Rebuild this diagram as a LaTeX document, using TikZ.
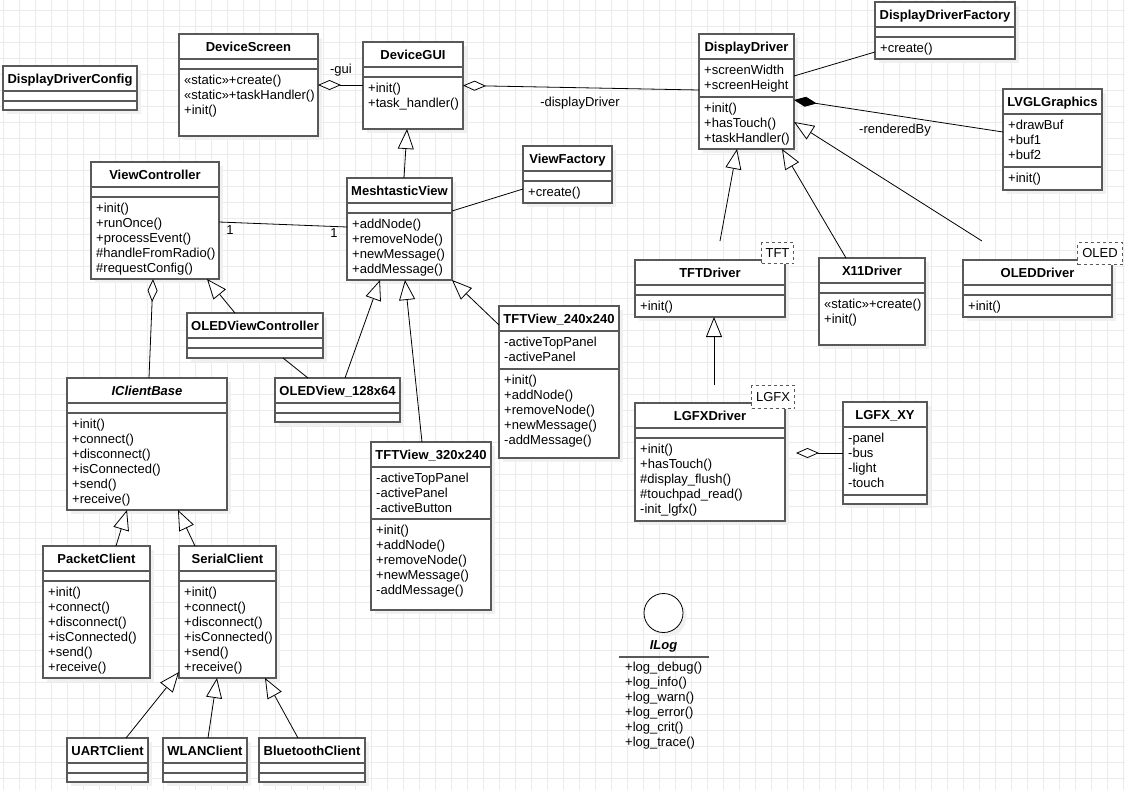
\documentclass[tikz,border=0pt]{standalone}
\usepackage{fontspec}
\setmainfont{Liberation Sans}
\usetikzlibrary{arrows.meta, positioning, calc}

\newcommand{\umlfont}{\fontsize{13}{15}\selectfont}
% id, left, top, width, height, attribute part height, title, attributes, methods
\newcommand{\umlclass}[9]{%
  \fill[classshadow] ({#2+4},{#3+4}) rectangle ++(#4,#5);
  \node[classbox, anchor=north west, minimum width=#4pt, minimum height=#5pt] (#1) at (#2,#3) {};
  \draw[classline] ($(#1.north west)+(0,25)$) -- ($(#1.north east)+(0,25)$);
  \draw[classline] ($(#1.north west)+(0,25+#6)$) -- ($(#1.north east)+(0,25+#6)$);
  \node[classtitle] (#1-title) at ($(#1.north)+(0,17.5)$) {#7};
  \node[members] (#1-attr) at ($(#1.north west)+(5,30)$) {\strut #8};
  \node[members] (#1-meth) at ($(#1.north west)+(5,30+#6)$) {\strut #9};
}

\begin{document}
\begin{tikzpicture}[x=1pt, y=-1pt,
    gridline/.style={draw=black!8, line width=0.8pt},
    classshadow/.style={fill=black!6},
    classbox/.style={draw=black!65, line width=1.3pt, fill=white, inner sep=0pt, outer sep=0pt},
    classline/.style={draw=black!65, line width=1.3pt},
    classtitle/.style={font=\bfseries\umlfont, anchor=base, inner sep=0pt},
    members/.style={font=\umlfont, anchor=north west, align=left, inner sep=0pt},
    lbl/.style={font=\umlfont, anchor=base, inner sep=0pt},
    tag/.style={draw=black!65, dashed, line width=1pt, fill=white, font=\umlfont, inner sep=0pt, anchor=north west},
    assoc/.style={line width=0.8pt},
    inherit/.style={line width=0.8pt, -{Triangle[fill=white, length=20pt, width=16pt]}},
    aggr/.style={line width=0.8pt, {Diamond[fill=white, length=23pt, width=10pt]}-},
    compo/.style={line width=0.8pt, {Diamond[length=23pt, width=10pt]}-}]

  \useasboundingbox (0,0) rectangle (1125,790);
  \fill[white] (0,0) rectangle (1125,790);
  \foreach \gx in {3.5,19.5,...,1125} \draw[gridline] (\gx,0) -- (\gx,790);
  \foreach \gy in {10,26,...,790} \draw[gridline] (0,\gy) -- (1125,\gy);

  \umlclass{ddconfig}{3}{66}{134}{44}{10}{DisplayDriverConfig}{}{}
  \umlclass{devscreen}{179}{34}{139}{102}{10}{DeviceScreen}{}{«static»+create()\\«static»+taskHandler()\\+init()}
  \umlclass{devgui}{363}{42}{100}{87}{10}{DeviceGUI}{}{+init()\\+task\_handler()}
  \umlclass{dispdriver}{699}{34}{95}{115}{38}{DisplayDriver}{+screenWidth\\+screenHeight}{+init()\\+hasTouch()\\+taskHandler()}
  \umlclass{ddfactory}{875}{2}{140}{57}{10}{DisplayDriverFactory}{}{+create()}
  \umlclass{lvgl}{1003}{89}{99}{101}{53}{LVGLGraphics}{+drawBuf\\+buf1\\+buf2}{+init()}
  \umlclass{viewfactory}{523}{146}{89}{57}{10}{ViewFactory}{}{+create()}
  \umlclass{meshview}{347}{178}{105}{102}{10}{MeshtasticView}{}{+addNode()\\+removeNode()\\+newMessage()\\+addMessage()}
  \umlclass{viewctrl}{91}{162}{128}{117}{10}{ViewController}{}{+init()\\+runOnce()\\+processEvent()\\\#handleFromRadio()\\\#requestConfig()}
  \umlclass{oledvc}{187}{313}{136}{45}{10}{OLEDViewController}{}{}
  \umlclass{clientbase}{67}{378}{160}{132}{10}{\textit{IClientBase}}{}{+init()\\+connect()\\+disconnect()\\+isConnected()\\+send()\\+receive()}
  \umlclass{oledview}{275}{378}{125}{44}{10}{OLEDView\_128x64}{}{}
  \umlclass{tftview320}{371}{442}{120}{168}{52}{TFTView\_320x240}{-activeTopPanel\\-activePanel\\-activeButton}{+init()\\+addNode()\\+removeNode()\\+newMessage()\\-addMessage()}
  \umlclass{tftview240}{499}{306}{120}{152}{38}{TFTView\_240x240}{-activeTopPanel\\-activePanel}{+init()\\+addNode()\\+removeNode()\\+newMessage()\\-addMessage()}
  \umlclass{tftdriver}{635}{260}{150}{57}{10}{TFTDriver}{}{+init()}
  \umlclass{x11driver}{819}{258}{106}{87}{10}{X11Driver}{}{«static»+create()\\+init()}
  \umlclass{oleddriver}{963}{260}{149}{57}{10}{OLEDDriver}{}{+init()}
  \umlclass{lgfxdriver}{635}{403}{150}{118}{10}{LGFXDriver}{}{+init()\\+hasTouch()\\\#display\_flush()\\\#touchpad\_read()\\-init\_lgfx()}
  \umlclass{lgfxxy}{843}{402}{84}{102}{68}{LGFX\_XY}{-panel\\-bus\\-light\\-touch}{}
  \umlclass{packet}{43}{546}{107}{132}{10}{PacketClient}{}{+init()\\+connect()\\+disconnect()\\+isConnected()\\+send()\\+receive()}
  \umlclass{serial}{179}{546}{97}{132}{10}{SerialClient}{}{+init()\\+connect()\\+disconnect()\\+isConnected()\\+send()\\+receive()}
  \umlclass{uart}{67}{738}{81}{44}{10}{UARTClient}{}{}
  \umlclass{wlan}{163}{738}{84}{44}{10}{WLANClient}{}{}
  \umlclass{bluetooth}{259}{738}{106}{44}{10}{BluetoothClient}{}{}

  \node[tag, minimum width=32pt, minimum height=21pt] (tfttag) at (761,242) {TFT};
  \node[tag, minimum width=43pt, minimum height=23pt] (lgfxtag) at (751,385) {LGFX};
  \node[tag, minimum width=45pt, minimum height=22pt] (oledtag) at (1077,242) {OLED};

  % interface
  \fill[classshadow] (667,617) circle (19.5);
  \node[draw, circle, fill=white, line width=0.8pt, minimum size=39pt, inner sep=0pt] (ilog) at (663.5,613) {};
  \node[classtitle, font=\bfseries\itshape\umlfont] (ilog-title) at (663.5,649.5) {ILog};
  \draw[classline] (619,657) -- (709,657);
  \node[members] (ilog-meth) at (625,661) {\strut +log\_debug()\\+log\_info()\\+log\_warn()\\+log\_error()\\+log\_crit()\\+log\_trace()};

  % associations
  \draw[aggr] (devscreen.east) -- (devscreen.east -| devgui.west);
  \node[lbl] (gui-lbl) at (341,73.5) {-gui};
  \draw[aggr] (devgui.east) -- ($(dispdriver.north west)+(0,56)$);
  \node[lbl] (driver-lbl) at (580,106.5) {-displayDriver};
  \draw[assoc] ($(dispdriver.north east)+(0,42)$) -- ($(ddfactory.north west)+(0,50)$);
  \draw[compo] ($(dispdriver.north east)+(0,66)$) -- ($(lvgl.north west)+(0,43)$);
  \node[lbl] (render-lbl) at (895,133.5) {-renderedBy};
  \draw[assoc] ($(meshview.north east)+(0,33)$) -- ($(viewfactory.north west)+(0,43)$);
  \draw[assoc] ($(viewctrl.north east)+(0,60)$) -- ($(meshview.north west)+(0,49)$);
  \node[lbl] (one-a) at (230,234.5) {1};
  \node[lbl] (one-b) at (334,237.5) {1};
  \draw[aggr] ($(viewctrl.south west)+(62,0)$) -- ($(clientbase.north west)+(82,0)$);
  \draw[assoc] ($(oledvc.south west)+(96,0)$) -- ($(oledview.north west)+(33,0)$);
  \coordinate (lgfxhole) at ($(lgfxdriver.north east)+(11,50)$);
  \draw[aggr] (lgfxhole) -- ($(lgfxxy.north west)+(0,51)$);

  % generalizations
  \draw[inherit] ($(meshview.north west)+(57,0)$) -- ($(devgui.south west)+(44,0)$);
  \draw[inherit] ($(oledvc.north west)+(48,0)$) -- ($(viewctrl.south west)+(116,0)$);
  \draw[inherit] ($(oledview.north west)+(70,0)$) -- ($(meshview.south west)+(33,0)$);
  \draw[inherit] ($(tftview320.north west)+(51,0)$) -- ($(meshview.south west)+(58,0)$);
  \draw[inherit] ($(tftview240.north west)+(0,19)$) -- (meshview.south east);
  \coordinate (tftfree) at ($(tftdriver.north west)+(85,-19)$);
  \draw[inherit] (tftfree) -- ($(dispdriver.south west)+(38,0)$);
  \draw[inherit] ($(x11driver.north west)+(27,0)$) -- ($(dispdriver.south west)+(83,0)$);
  \coordinate (oledfree) at ($(oleddriver.north west)+(19,-19)$);
  \draw[inherit] (oledfree) -- ($(dispdriver.north east)+(0,88)$);
  \coordinate (lgfxfree) at ($(lgfxdriver.north west)+(79,-18)$);
  \draw[inherit] (lgfxfree) -- ($(tftdriver.south west)+(79,0)$);
  \draw[inherit] ($(packet.north west)+(73,0)$) -- ($(clientbase.south west)+(60,0)$);
  \draw[inherit] ($(serial.north west)+(16,0)$) -- ($(clientbase.south west)+(111,0)$);
  \draw[inherit] ($(uart.north west)+(59,0)$) -- ($(serial.north west)+(0,126)$);
  \draw[inherit] ($(wlan.north west)+(45,0)$) -- ($(serial.south west)+(38,0)$);
  \draw[inherit] ($(bluetooth.north west)+(39,0)$) -- ($(serial.south west)+(86,0)$);

\end{tikzpicture}
\end{document}
